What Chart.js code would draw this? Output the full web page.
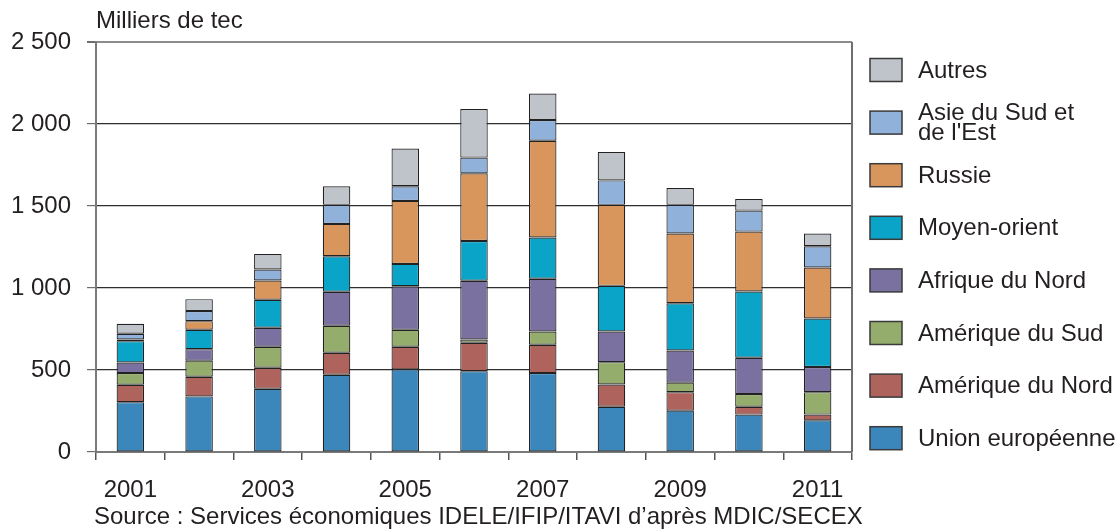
<!DOCTYPE html>
<html>
<head>
<meta charset="utf-8">
<script src="https://cdn.jsdelivr.net/npm/chart.js@4.4.0/dist/chart.umd.min.js"></script>
<style>
  body { margin: 0; background: #fff; }
  canvas { display: block; }
</style>
</head>
<body>
<canvas id="chart" width="1117" height="529"></canvas>
<script>
// exportations par destination, milliers de tec
const years = ['2001', '2002', '2003', '2004', '2005', '2006', '2007', '2008', '2009', '2010', '2011'];
const unionEuropeenne = [304, 339, 386, 471, 504, 493, 481, 276, 252, 228, 193];
const ameriqueNord    = [106, 120, 128, 134, 138, 173, 173, 136, 113, 48, 35];
const ameriqueSud     = [71, 98, 128, 165, 103, 20, 81, 136, 58, 77, 137];
const afriqueNord     = [65, 70, 116, 207, 266, 358, 321, 187, 196, 222, 153];
const moyenOrient     = [130, 118, 170, 217, 136, 243, 252, 278, 288, 404, 296];
const russie          = [10, 53, 118, 197, 384, 412, 590, 494, 425, 365, 311];
const asieSudEst      = [35, 61, 67, 116, 89, 96, 126, 149, 175, 128, 130];
const autres          = [61, 73, 95, 113, 231, 296, 162, 173, 103, 71, 77];

const yTicks = [0, 500, 1000, 1500, 2000, 2500];
const sourceText = 'Source : Services économiques IDELE/IFIP/ITAVI d\u2019après MDIC/SECEX';
const unitText = 'Milliers de tec';

// bottom to top of each stack
const series = [
  { lines: ['Union européenne'], data: unionEuropeenne, color: '#3b87bc' },
  { lines: ['Amérique du Nord'], data: ameriqueNord, color: '#ae645c' },
  { lines: ['Amérique du Sud'], data: ameriqueSud, color: '#94ac6c' },
  { lines: ['Afrique du Nord'], data: afriqueNord, color: '#7b71a0' },
  { lines: ['Moyen-orient'], data: moyenOrient, color: '#0aa4c8' },
  { lines: ['Russie'], data: russie, color: '#d9965c' },
  { lines: ['Asie du Sud et', "de l'Est"], data: asieSudEst, color: '#8fb1da' },
  { lines: ['Autres'], data: autres, color: '#bfc3ca' }
];

const FONT = '"Liberation Sans", Arial, sans-serif';
const TEXT = '#231f20';

function spaced(v) {
  return String(v).replace(/\B(?=(\d{3})+(?!\d))/g, ' ');
}

// unit label, source line, right frame and the legend
const decor = {
  id: 'decor',
  afterDraw(chart) {
    const ctx = chart.ctx;
    const a = chart.chartArea;
    ctx.save();
    ctx.strokeStyle = '#6e6e6e';
    ctx.lineWidth = 2;
    ctx.beginPath();
    ctx.moveTo(a.right, a.top);
    ctx.lineTo(a.right, a.bottom);
    ctx.stroke();

    ctx.fillStyle = TEXT;
    ctx.font = '24px ' + FONT;
    ctx.textAlign = 'left';
    ctx.textBaseline = 'middle';
    ctx.fillText(unitText, 96, 21);
    ctx.fillText(sourceText, 94, 517);

    const sets = chart.data.datasets.slice().reverse();
    sets.forEach((ds, i) => {
      const cy = 70 + i * 52.6;
      ctx.fillStyle = ds.backgroundColor;
      ctx.fillRect(870, cy - 11.5, 32, 23);
      ctx.strokeStyle = '#3a3a3a';
      ctx.lineWidth = 1.5;
      ctx.strokeRect(870, cy - 11.5, 32, 23);
      ctx.fillStyle = TEXT;
      const lines = ds.legendLines;
      lines.forEach((t, j) => {
        ctx.fillText(t, 918, cy + 1 + (j - (lines.length - 1) / 2) * 20);
      });
    });
    ctx.restore();
  }
};

new Chart(document.getElementById('chart'), {
  type: 'bar',
  plugins: [decor],
  data: {
    labels: years,
    datasets: series.map(s => ({
      label: s.lines.join(' '),
      legendLines: s.lines,
      data: s.data,
      backgroundColor: s.color,
      borderColor: '#222222',
      borderWidth: 1.2,
      borderSkipped: false,
      barPercentage: 0.4,
      categoryPercentage: 1
    }))
  },
  options: {
    responsive: false,
    devicePixelRatio: 1,
    animation: false,
    layout: { padding: { top: 42, right: 265, bottom: 19, left: 0 } },
    plugins: {
      legend: { display: false },
      tooltip: { enabled: false }
    },
    scales: {
      x: {
        stacked: true,
        afterFit: s => { s.height = 58; },
        border: { color: '#7a7a7a', width: 2 },
        grid: { offset: true, drawOnChartArea: false, tickLength: 8, tickColor: '#555', lineWidth: 1.5 },
        ticks: {
          autoSkip: false,
          maxRotation: 0,
          padding: 16,
          color: TEXT,
          font: { family: FONT, size: 24 },
          callback: function (v, i) { return i % 2 === 0 ? this.getLabelForValue(v) : ''; }
        }
      },
      y: {
        stacked: true,
        min: 0,
        max: 2500,
        afterFit: s => { s.width = 96; },
        afterBuildTicks: s => { s.ticks = yTicks.map(v => ({ value: v })); },
        border: { color: '#7a7a7a', width: 2 },
        grid: {
          color: c => (c.tick && c.tick.value === 2500 ? '#8c8c8c' : '#2f2f2f'),
          lineWidth: c => (c.tick && c.tick.value === 2500 ? 2 : 1.2),
          tickLength: 9,
          tickColor: '#6e6e6e'
        },
        ticks: {
          padding: 16,
          color: TEXT,
          font: { family: FONT, size: 24 },
          callback: v => spaced(v)
        }
      }
    }
  }
});
</script>
</body>
</html>
